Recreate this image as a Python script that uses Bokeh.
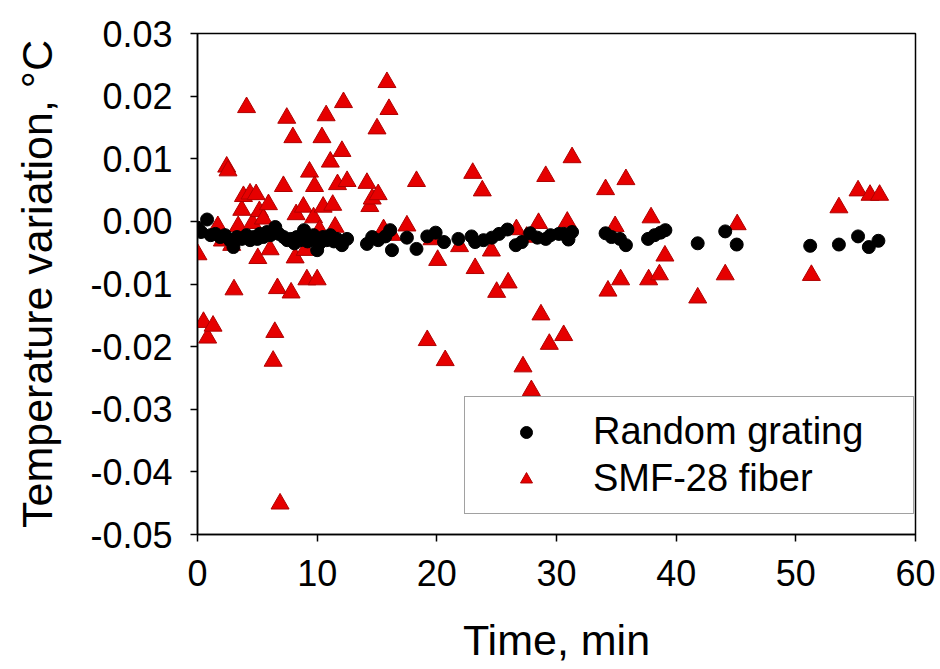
from bokeh.plotting import figure
from bokeh.models import Range1d, FixedTicker, NumeralTickFormatter, Legend, LegendItem, ColumnDataSource
from bokeh.embed import file_html
from bokeh.resources import INLINE

# Random grating (black circles)
rg_time = [0.0, 0.3, 0.8, 1.1, 1.5, 1.9, 2.3, 2.7, 3.0, 3.3, 3.7, 4.1, 4.4, 4.7, 5.0, 5.2, 5.5, 5.8,
           6.1, 6.5, 6.8, 7.2, 7.5, 7.8, 8.1, 8.3, 8.6, 8.9, 9.2, 9.4, 9.7, 10.0, 10.2, 10.5, 10.8,
           11.1, 11.4, 11.65, 12.07, 12.5, 14.16, 14.6, 15.1, 15.7, 16.1, 16.25, 17.5, 18.3, 19.2,
           19.9, 20.6, 21.8, 22.9, 23.2, 23.9, 24.6, 25.2, 25.9, 26.6, 27.1, 27.8, 28.4, 29.1, 29.5,
           30.2, 30.6, 31.0, 31.3, 34.1, 34.6, 35.3, 35.8, 37.65, 38.2, 38.7, 39.1, 41.8, 44.1,
           45.06, 51.2, 53.6, 55.2, 56.1, 56.9]
rg_temp = [-0.0010, -0.0017, 0.0003, -0.0022, -0.0020, -0.0025, -0.0022, -0.0030, -0.0041, -0.0025,
           -0.0028, -0.0022, -0.0030, -0.0025, -0.0028, -0.0020, -0.0025, -0.0017, -0.0022, -0.0009,
           -0.0020, -0.0025, -0.0030, -0.0028, -0.0035, -0.0025, -0.0030, -0.0014, -0.0032, -0.0028,
           -0.0022, -0.0046, -0.0035, -0.0025, -0.0030, -0.0022, -0.0032, -0.0028, -0.0038, -0.0028,
           -0.0036, -0.0025, -0.0030, -0.0024, -0.0014, -0.0046, -0.0026, -0.0044, -0.0024, -0.0018,
           -0.0033, -0.0028, -0.0024, -0.0033, -0.0030, -0.0026, -0.0020, -0.0013, -0.0038, -0.0033,
           -0.0019, -0.0026, -0.0028, -0.0022, -0.0020, -0.0020, -0.0029, -0.0017, -0.0019, -0.0025,
           -0.0028, -0.0038, -0.0028, -0.0022, -0.0018, -0.0014, -0.0035, -0.0016, -0.0037, -0.0039,
           -0.0037, -0.0024, -0.0041, -0.0031]

# SMF-28 fiber (red triangles)
smf_time = [0.04, 0.5, 0.85, 1.3, 1.7, 2.08, 2.44, 2.55, 2.86, 3.05, 3.4, 3.7, 3.84, 4.1, 4.39, 4.6,
            4.9, 5.04, 5.17, 5.5, 5.93, 6.07, 6.32, 6.46, 6.68, 6.9, 7.18, 7.46, 7.82, 7.97, 8.16,
            8.24, 8.85, 9.0, 9.14, 9.36, 9.7, 9.78, 10.0, 10.2, 10.4, 10.5, 10.75, 11.1, 11.3, 11.5,
            11.7, 12.07, 12.2, 12.5, 14.16, 14.4, 14.6, 15.0, 15.1, 15.55, 15.83, 16.0, 16.25, 17.5,
            18.3, 19.2, 19.6, 20.07, 20.7, 21.9, 23.0, 23.2, 23.8, 24.56, 25.0, 25.96, 26.65, 27.2,
            27.5, 27.9, 28.5, 28.7, 29.1, 29.4, 30.6, 30.9, 31.3, 34.1, 34.3, 34.9, 35.36, 35.8,
            37.7, 37.9, 38.6, 39.06, 41.8, 44.1, 45.1, 51.3, 53.6, 55.2, 56.2, 57.0]
smf_temp = [-0.0053, -0.0161, -0.0186, -0.0167, -0.0008, -0.0031, 0.0087, 0.0081, -0.0038, -0.0109,
            -0.0008, 0.0018, 0.0040, 0.0182, 0.0044, -0.0003, 0.0043, -0.0059, 0.0016, 0.0004,
            0.0027, -0.0045, -0.0223, -0.0177, -0.0107, -0.0451, 0.0056, 0.0165, -0.0114, 0.0134,
            -0.0058, 0.0011, 0.0023, -0.0046, -0.0093, 0.0079, 0.0006, 0.0056, -0.0093, -0.0014,
            0.0134, 0.0023, 0.0169, 0.0095, 0.0026, -0.0009, 0.0059, 0.0112, 0.0190, 0.0064,
            0.0061, 0.0024, 0.0036, 0.0148, 0.0043, -0.0013, 0.0222, 0.0179, -0.0022, -0.0007,
            0.0064, -0.0190, -0.0029, -0.0062, -0.0222, -0.0040, 0.0077, -0.0075, 0.0049, -0.0047,
            -0.0113, -0.0098, -0.0013, -0.0232, -0.0025, -0.0270, -0.0003, -0.0149, 0.0072, -0.0196,
            -0.0182, -0.0001, 0.0102, 0.0051, -0.0111, -0.0008, -0.0093, 0.0067, -0.0093, 0.0006,
            -0.0085, -0.0055, -0.0122, -0.0085, -0.0005, -0.0086, 0.0022, 0.0049, 0.0042, 0.0042]

x_ticks = [0, 10, 20, 30, 40, 50, 60]
y_ticks = [-0.05, -0.04, -0.03, -0.02, -0.01, 0.0, 0.01, 0.02, 0.03]

FONT = "Liberation Sans"

p = figure(width=940, height=669, output_backend="svg", toolbar_location=None,
           x_range=Range1d(0, 60), y_range=Range1d(-0.05, 0.03))
p.min_border_left = 197
p.min_border_right = 25
p.min_border_top = 33
p.min_border_bottom = 135
p.background_fill_color = "white"
p.border_fill_color = "white"
p.outline_line_color = "black"
p.outline_line_width = 1.5
p.xgrid.visible = False
p.ygrid.visible = False

src_rg = ColumnDataSource(dict(x=rg_time, y=rg_temp))
src_smf = ColumnDataSource(dict(x=smf_time, y=smf_temp))

r_smf = p.scatter("x", "y", source=src_smf, marker="triangle", size=18,
                  fill_color="#e60000", line_color="#b00000", line_width=1)
r_rg = p.scatter("x", "y", source=src_rg, marker="circle", size=13,
                 fill_color="black", line_color="black")

for ax in (p.xaxis[0], p.yaxis[0]):
    ax.axis_line_color = "black"
    ax.axis_line_width = 1.5
    ax.major_tick_line_color = "black"
    ax.major_tick_line_width = 1.5
    ax.major_tick_out = 7
    ax.major_tick_in = 0
    ax.minor_tick_line_color = None
    ax.major_label_text_font = FONT
    ax.major_label_text_color = "black"
    ax.major_label_text_font_size = "36px"
    ax.axis_label_text_font = FONT
    ax.axis_label_text_font_style = "normal"
    ax.axis_label_text_color = "black"
    ax.axis_label_text_font_size = "43px"

p.xaxis.ticker = FixedTicker(ticks=x_ticks)
p.yaxis.ticker = FixedTicker(ticks=y_ticks)
p.yaxis.formatter = NumeralTickFormatter(format="0.00")
p.xaxis.axis_label = "Time, min"
p.yaxis.axis_label = "Temperature variation, °C"
p.xaxis.major_label_standoff = 18
p.yaxis.major_label_standoff = 18
p.xaxis.axis_label_standoff = 27
p.yaxis.axis_label_standoff = 26

legend = Legend(items=[LegendItem(label="Random grating", renderers=[r_rg]),
                       LegendItem(label="SMF-28 fiber", renderers=[r_smf])],
                location=(267, 20))
legend.label_text_font = FONT
legend.label_text_font_size = "38px"
legend.label_text_color = "black"
legend.padding = 13
legend.glyph_width = 96
legend.glyph_height = 30
legend.label_height = 30
legend.label_width = 307
legend.label_standoff = 19
legend.spacing = 4
legend.margin = 0
legend.border_line_color = "#444444"
legend.border_line_width = 1
legend.background_fill_color = "white"
legend.background_fill_alpha = 1
p.add_layout(legend, "center")

open("out.html", "w").write(file_html(p, INLINE))
